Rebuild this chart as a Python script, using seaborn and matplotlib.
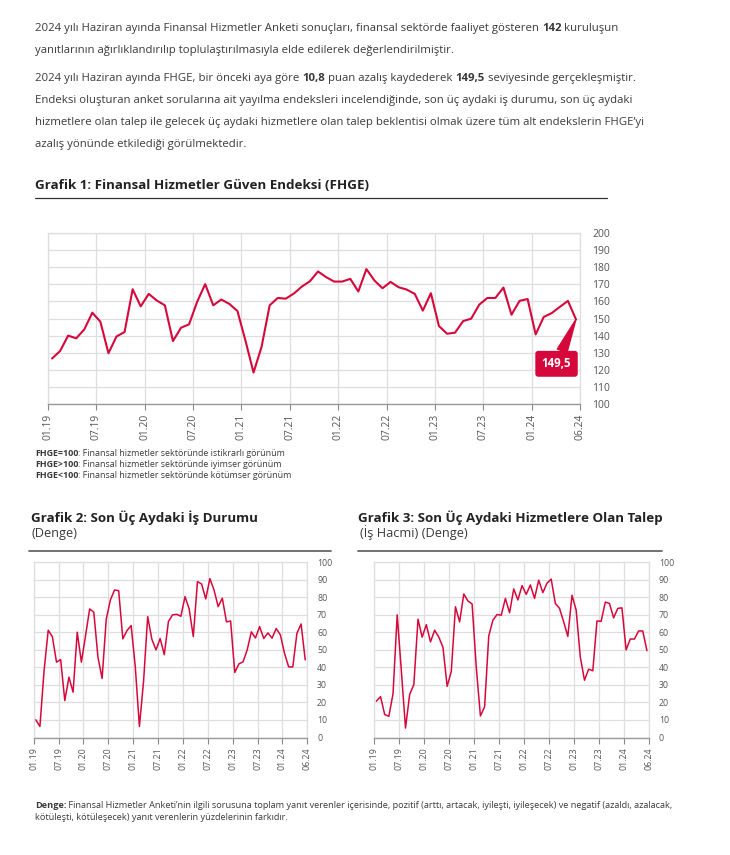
import numpy as np
import pandas as pd
import seaborn as sns
import matplotlib.pyplot as plt

# ---- veriler (aylık, 01.2019 - 06.2024) ----
fhge = [126.6, 131.0, 140.0, 138.4, 143.6, 153.4, 148.1, 129.7, 139.5, 142.1, 167.1, 157.1,
        164.4, 160.5, 157.7, 136.8, 144.6, 146.6, 159.7, 170.1, 157.7, 161.1, 158.5, 154.4,
        137.0, 118.4, 133.5, 157.7, 162.0, 161.6, 164.6, 168.7, 171.8, 177.5, 174.2, 171.6,
        171.6, 173.2, 165.8, 178.9, 172.2, 167.7, 171.4, 168.3, 166.9, 164.4, 154.6, 164.8,
        145.6, 141.1, 141.7, 148.5, 149.9, 158.1, 162.0, 162.0, 168.1, 152.2, 160.3, 161.4,
        140.7, 150.9, 153.2, 156.8, 160.3, 149.5]

is_durumu = [10.1, 6.3, 38.0, 61.2, 57.6, 43.0, 44.5, 21.1, 34.4, 25.9, 60.1, 43.0,
             58.0, 73.4, 71.5, 45.8, 33.7, 67.5, 78.5, 84.2, 83.8, 56.3, 61.0, 63.9,
             40.5, 6.3, 32.0, 69.0, 56.1, 50.0, 56.5, 47.3, 66.2, 70.0, 70.3, 69.2,
             80.4, 73.4, 57.6, 89.0, 87.6, 79.1, 90.7, 84.2, 74.7, 79.5, 66.0, 66.5,
             37.1, 42.0, 43.2, 50.0, 60.3, 56.8, 63.3, 56.5, 59.7, 56.7, 62.2, 58.6,
             48.1, 40.3, 40.3, 59.5, 64.8, 44.3]

talep = [20.8, 23.3, 13.1, 12.1, 25.0, 70.0, 38.0, 5.4, 24.6, 30.2, 67.5, 57.3,
         64.4, 54.6, 61.2, 57.3, 51.5, 29.2, 37.7, 74.6, 66.0, 81.9, 77.9, 76.2,
         40.0, 12.3, 17.5, 58.0, 67.0, 70.2, 69.8, 79.4, 71.2, 84.8, 78.5, 86.7,
         81.7, 87.1, 79.4, 89.8, 82.7, 88.1, 90.4, 76.5, 73.7, 66.0, 57.7, 81.2,
         72.7, 45.8, 32.7, 39.0, 38.1, 66.5, 66.3, 77.3, 76.5, 68.3, 73.7, 74.0,
         50.0, 56.2, 56.2, 60.8, 60.8, 49.6]

tick_labels = ['01.19', '07.19', '01.20', '07.20', '01.21', '07.21',
               '01.22', '07.22', '01.23', '07.23', '01.24', '06.24']
tick_pos = [i - 0.5 for i in range(0, 61, 6)] + [len(fhge) - 0.5]

df = pd.DataFrame({'ay': np.arange(len(fhge)), 'fhge': fhge,
                   'is_durumu': is_durumu, 'talep': talep})

RED = '#d6083b'
TXT = '#3a3a3a'
GRID = '#dedede'
W, H = 730, 855

sns.set_style('white')
plt.rcParams['font.family'] = ['Open Sans', 'DejaVu Sans']

fig = plt.figure(figsize=(W / 100, H / 100), dpi=100)
renderer = fig.canvas.get_renderer()


def fy(px):
    return 1 - px / H


def runs(x, y, parts, size, color=TXT):
    # karışık kalın/normal metni parça parça yaz
    for s, bold in parts:
        t = fig.text(x / W, fy(y), s, fontsize=size, color=color,
                     fontweight='bold' if bold else 'normal', va='baseline', ha='left')
        x += t.get_window_extent(renderer).width


def style_axes(ax, ymin, ymax, step, ysize, xsize, pad):
    ax.set_xlim(-0.5, len(fhge) - 0.5)
    ax.set_ylim(ymin, ymax)
    ax.set_yticks(np.arange(ymin, ymax + 1, step))
    ax.set_xticks(tick_pos)
    ax.set_xticklabels(tick_labels, rotation=90)
    ax.yaxis.tick_right()
    ax.tick_params(axis='y', length=0, pad=pad, labelsize=ysize, labelcolor='#555555')
    ax.tick_params(axis='x', length=4, width=0.8, color='#888888', pad=3,
                   labelsize=xsize, labelcolor='#555555', bottom=True)
    ax.grid(True, color=GRID, linewidth=0.9)
    ax.set_axisbelow(True)
    for s in ['left', 'top', 'right']:
        ax.spines[s].set_color(GRID)
        ax.spines[s].set_linewidth(0.9)
    ax.spines['bottom'].set_color('#999999')
    ax.spines['bottom'].set_linewidth(1.0)
    ax.set_xlabel('')
    ax.set_ylabel('')


# ---- üst metin ----
fs = 8.2
runs(35, 31, [('2024 yılı Haziran ayında Finansal Hizmetler Anketi sonuçları, finansal sektörde faaliyet gösteren ', False),
              ('142', True), (' kuruluşun', False)], fs)
runs(35, 52.5, [('yanıtlarının ağırlıklandırılıp toplulaştırılmasıyla elde edilerek değerlendirilmiştir.', False)], fs)
runs(35, 81, [('2024 yılı Haziran ayında FHGE, bir önceki aya göre ', False), ('10,8', True),
              (' puan azalış kaydederek ', False), ('149,5', True), (' seviyesinde gerçekleşmiştir.', False)], fs)
runs(35, 103, [('Endeksi oluşturan anket sorularına ait yayılma endeksleri incelendiğinde, son üç aydaki iş durumu, son üç aydaki', False)], fs)
runs(35, 125, [('hizmetlere olan talep ile gelecek üç aydaki hizmetlere olan talep beklentisi olmak üzere tüm alt endekslerin FHGE’yi', False)], fs)
runs(35, 147, [('azalış yönünde etkilediği görülmektedir.', False)], fs)

# ---- Grafik 1 ----
runs(35, 189, [('Grafik 1: Finansal Hizmetler Güven Endeksi (FHGE)', True)], 9.6, '#222222')
fig.add_artist(plt.Line2D([35 / W, 607 / W], [fy(198.5)] * 2, color='#333333', lw=0.9))

ax1 = fig.add_axes([48 / W, fy(404), (580 - 48) / W, (404 - 233) / H])
sns.lineplot(data=df, x='ay', y='fhge', ax=ax1, color=RED, linewidth=1.5)
style_axes(ax1, 100, 200, 10, 7.5, 7.4, 9)
ax1.annotate(f'{fhge[-1]:.1f}'.replace('.', ','), xy=(df['ay'].iloc[-1], fhge[-1]),
             xytext=(-14, -32), textcoords='offset points', ha='center', va='center',
             fontsize=8.3, fontweight='bold', color='white',
             bbox=dict(boxstyle='round,pad=0.5,rounding_size=0.2', fc=RED, ec=RED),
             arrowprops=dict(arrowstyle='wedge,tail_width=0.9,shrink_factor=0.5',
                             fc=RED, ec=RED, shrinkA=0, shrinkB=0))

runs(35, 456, [('FHGE=100', True), (': Finansal hizmetler sektöründe istikrarlı görünüm', False)], 6.4)
runs(35, 467, [('FHGE>100', True), (': Finansal hizmetler sektöründe iyimser görünüm', False)], 6.4)
runs(35, 478, [('FHGE<100', True), (': Finansal hizmetler sektöründe kötümser görünüm', False)], 6.4)

# ---- Grafik 2 ----
runs(31, 522, [('Grafik 2: Son Üç Aydaki İş Durumu', True)], 9.6, '#222222')
runs(31, 537.5, [('(Denge)', False)], 9.2)
fig.add_artist(plt.Line2D([29 / W, 331 / W], [fy(550.5)] * 2, color='#666666', lw=1.3))

ax2 = fig.add_axes([33.7 / W, fy(737.5), (307.3 - 33.7) / W, (737.5 - 562.3) / H])
sns.lineplot(data=df, x='ay', y='is_durumu', ax=ax2, color=RED, linewidth=1.1)
style_axes(ax2, 0, 100, 10, 6.3, 6.4, 7)

# ---- Grafik 3 ----
runs(358, 522, [('Grafik 3: Son Üç Aydaki Hizmetlere Olan Talep', True)], 9.6, '#222222')
runs(360, 537.5, [('(İş Hacmi) (Denge)', False)], 9.2)
fig.add_artist(plt.Line2D([358 / W, 662 / W], [fy(550.5)] * 2, color='#666666', lw=1.3))

ax3 = fig.add_axes([374.3 / W, fy(737.5), (649 - 374.3) / W, (737.5 - 562.3) / H])
sns.lineplot(data=df, x='ay', y='talep', ax=ax3, color=RED, linewidth=1.1)
style_axes(ax3, 0, 100, 10, 6.3, 6.4, 7)

# ---- dipnot ----
runs(35, 808, [('Denge:', True), (' Finansal Hizmetler Anketi’nin ilgili sorusuna toplam yanıt verenler içerisinde, pozitif (arttı, artacak, iyileşti, iyileşecek) ve negatif (azaldı, azalacak,', False)], 6.6)
runs(35, 820, [('kötüleşti, kötüleşecek) yanıt verenlerin yüzdelerinin farkıdır.', False)], 6.6)

fig.savefig('out.png', dpi=100, facecolor='white')
